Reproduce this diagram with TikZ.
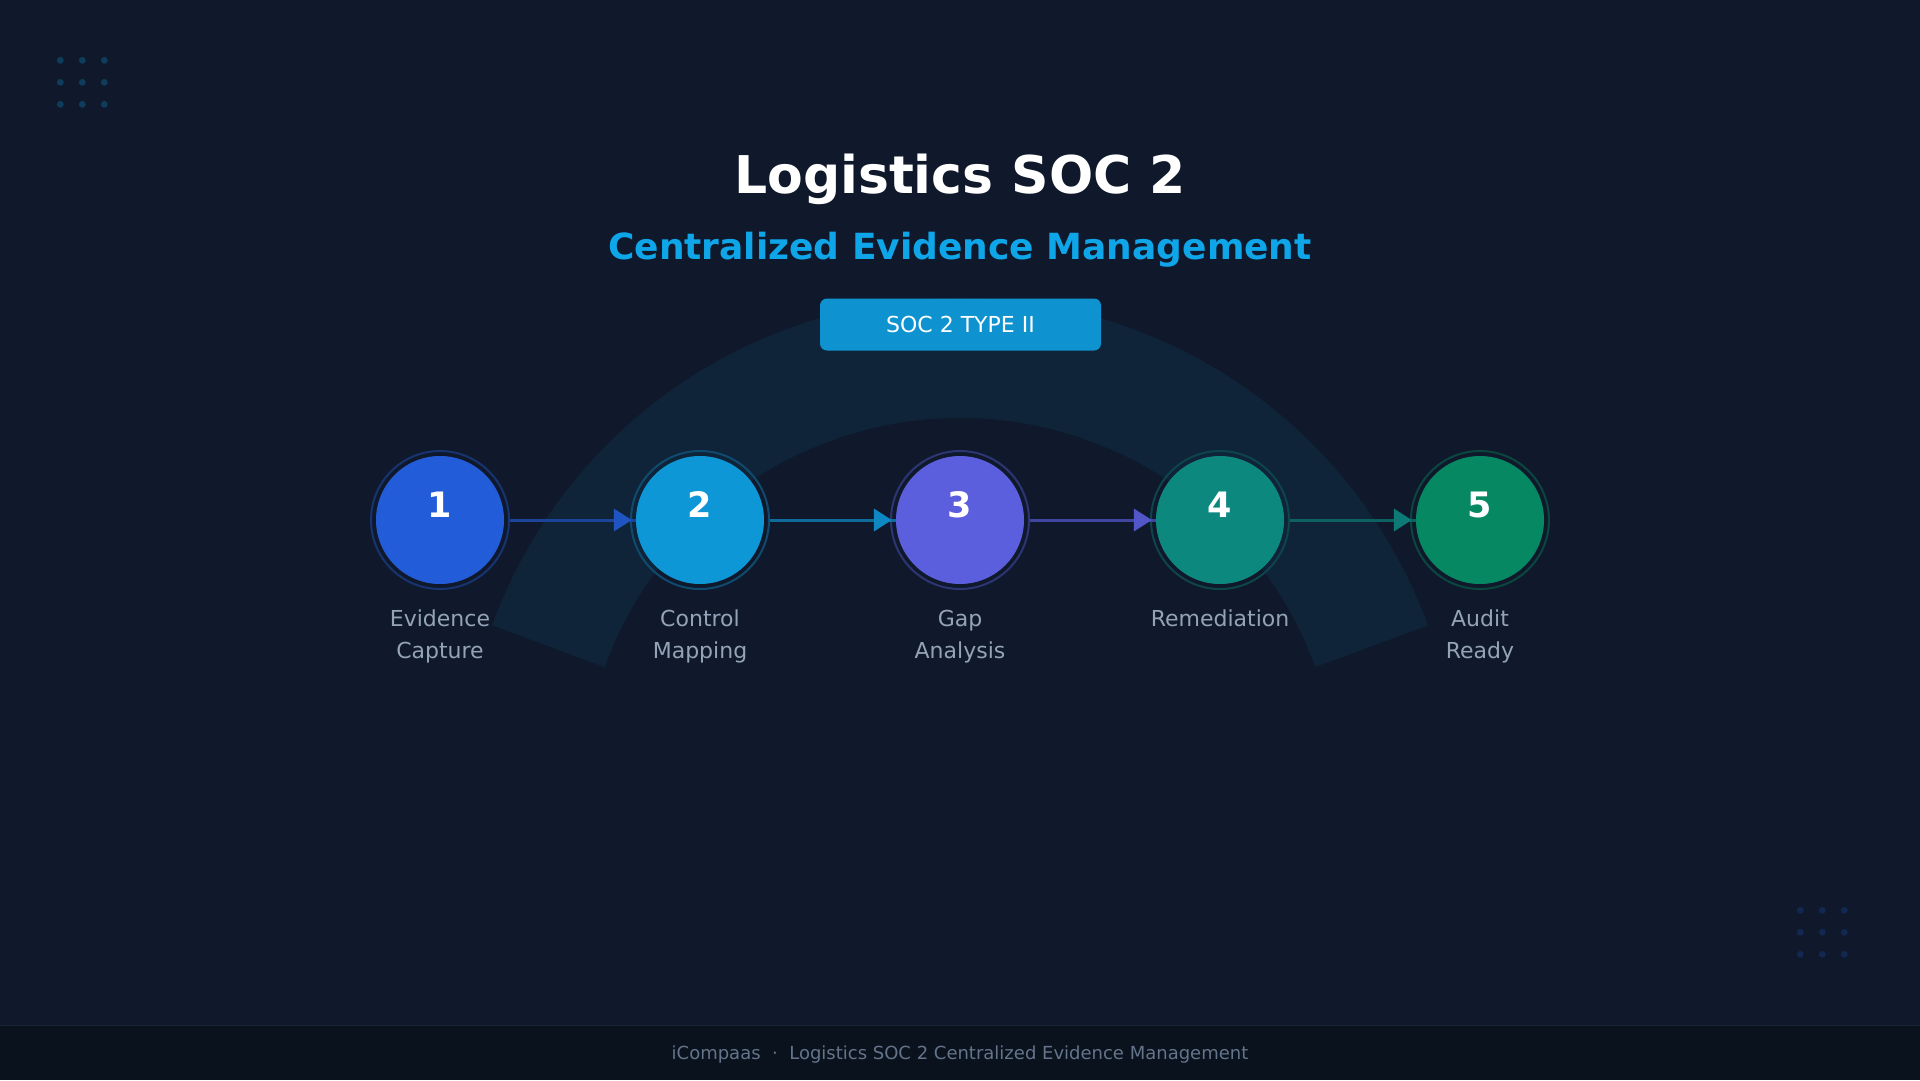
\documentclass[tikz,border=0pt]{standalone}
\usepackage{fontspec}
\setmainfont{DejaVu Sans}
\usetikzlibrary{calc}
\definecolor{bg}{HTML}{0F192B}
\definecolor{footbg}{HTML}{0A121D}
\definecolor{footline}{HTML}{1A2536}
\definecolor{bandcol}{HTML}{0F2339}
\definecolor{twblue}{HTML}{2563EB}
\definecolor{twsky}{HTML}{0EA5E9}
\definecolor{twindigo}{HTML}{6366F1}
\definecolor{twteal}{HTML}{0D9488}
\definecolor{twemerald}{HTML}{059669}
\definecolor{lblgrey}{HTML}{94A3B8}
\definecolor{footgrey}{HTML}{64748B}
\colorlet{colA}{twblue!90!bg}
\colorlet{colB}{twsky!90!bg}
\colorlet{colC}{twindigo!90!bg}
\colorlet{colD}{twteal!90!bg}
\colorlet{colE}{twemerald!90!bg}
\tikzset{
  stepcircle/.style={circle, minimum size=128pt, inner sep=0pt, draw=none},
  numtext/.style={text=white, font=\fontsize{35}{40}\selectfont\bfseries, inner sep=0pt},
  lbl/.style={text=lblgrey, font=\fontsize{22}{26}\selectfont, inner sep=0pt},
  badgebox/.style={fill=twsky!87!bg, rounded corners=7pt, minimum width=281pt, minimum height=52pt, inner sep=0pt, text=white, font=\fontsize{22}{26}\selectfont},
}
\begin{document}
\begin{tikzpicture}[x=1pt,y=-1pt]
\useasboundingbox (0,0) rectangle (1920,1080);
\fill[bg] (0,0) rectangle (1920,1080);
% background arc band
\coordinate (arccenter) at (960,796);
\draw[bandcol, line width=120pt] ($(arccenter)+(-160:438)$) arc[start angle=160, end angle=20, radius=438pt];
% decorative dots
\foreach \r in {0,1,2} {
  \foreach \c in {0,1,2} {
    \fill[twsky!25!bg] (60.3+22*\c, 60.3+22*\r) circle[radius=3.4pt];
    \fill[twblue!20!bg] (1800.3+22*\c, 910.3+22*\r) circle[radius=3.4pt];
  }
}
% title
\node[anchor=base, text=white, inner sep=0pt, font=\fontsize{52}{60}\selectfont\bfseries] (title) at (960,193) {Logistics SOC 2};
\node[anchor=base, text=twsky, inner sep=0pt, font=\fontsize{36}{42}\selectfont\bfseries] (subtitle) at (960,259) {Centralized Evidence Management};
% badge
\node[badgebox] (badge) at (960.5,324.5) {SOC 2 TYPE II};
% circles
\foreach \i/\x/\col in {1/440/colA,2/700/colB,3/960/colC,4/1220/colD,5/1480/colE} {
  \node[stepcircle, fill=\col] (c\i) at (\x,520) {};
  \draw[\col!40!bg, line width=2pt] (c\i.center) circle[radius=69pt];
  \node[numtext, anchor=base] (n\i) at ($(c\i.center)+(0,-3)$) {\i};
}
% arrows
\foreach \i/\j/\col in {1/2/colA,2/3/colB,3/4/colC,4/5/colD} {
  \draw[\col!65!bg, line width=3pt] ($(c\i.east)+(6,0)$) -- (c\j.west);
  \fill[\col!88!bg] ($(c\j.west)+(-22,-11.5)$) -- ($(c\j.west)+(-4,0)$) -- ($(c\j.west)+(-22,11.5)$) -- cycle;
}
% labels
\node[lbl, anchor=base] (l1a) at ($(c1.center)+(0,106)$) {Evidence};
\node[lbl, anchor=base] (l1b) at ($(c1.center)+(0,138)$) {Capture};
\node[lbl, anchor=base] (l2a) at ($(c2.center)+(0,106)$) {Control};
\node[lbl, anchor=base] (l2b) at ($(c2.center)+(0,138)$) {Mapping};
\node[lbl, anchor=base] (l3a) at ($(c3.center)+(0,106)$) {Gap};
\node[lbl, anchor=base] (l3b) at ($(c3.center)+(0,138)$) {Analysis};
\node[lbl, anchor=base] (l4a) at ($(c4.center)+(0,106)$) {Remediation};
\node[lbl, anchor=base] (l5a) at ($(c5.center)+(0,106)$) {Audit};
\node[lbl, anchor=base] (l5b) at ($(c5.center)+(0,138)$) {Ready};
% footer
\fill[footbg] (0,1025) rectangle (1920,1080);
\draw[footline, line width=1pt] (0,1025) -- (1920,1025);
\node[anchor=base, text=footgrey, inner sep=0pt, font=\fontsize{18}{22}\selectfont] (footer) at (960,1059) {iCompaas\hspace{0.636em}·\hspace{0.636em}Logistics SOC 2 Centralized Evidence Management};
\end{tikzpicture}
\end{document}
